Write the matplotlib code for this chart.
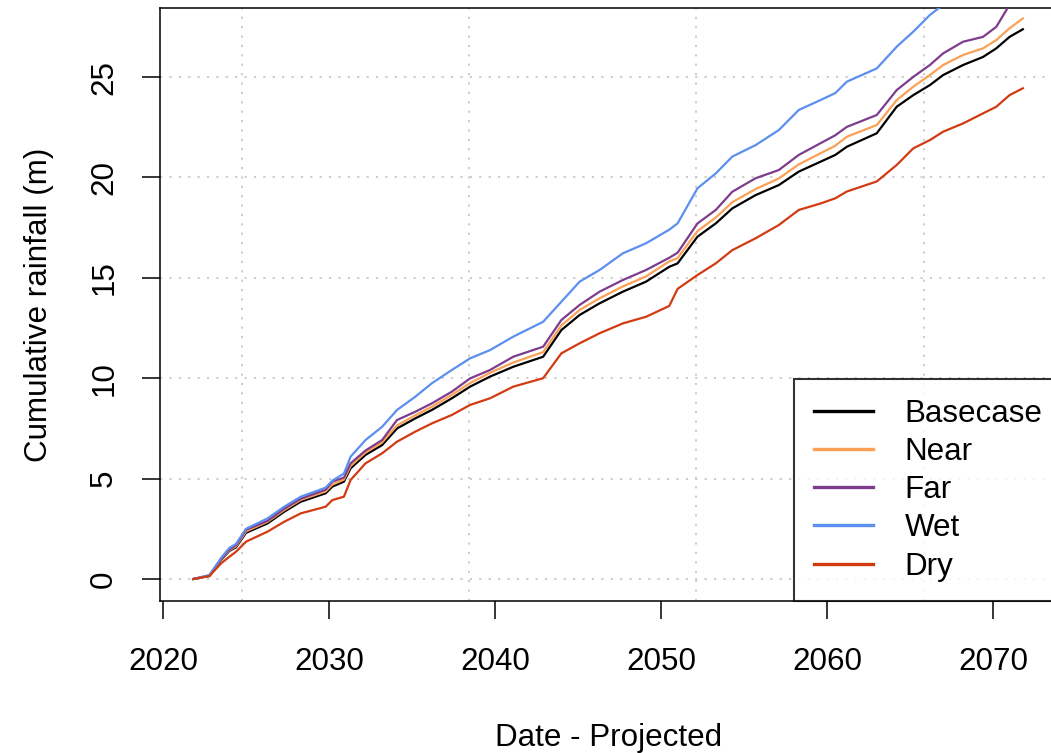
import numpy as np
import matplotlib
matplotlib.use("Agg")
import matplotlib.pyplot as plt

plt.rcParams["font.family"] = ["Liberation Sans", "DejaVu Sans"]

# decimal years, values (m)
years = [2021.83, 2022.8, 2023.5, 2024.0, 2024.4, 2025.0, 2026.3, 2027.3, 2028.3,
         2029.8, 2030.2, 2030.9, 2031.3, 2032.2, 2033.2, 2034.1, 2035.2, 2036.2,
         2037.4, 2038.5, 2039.7, 2041.1, 2042.9, 2044.0, 2045.1, 2046.3, 2047.7,
         2049.1, 2050.5, 2051.0, 2052.2, 2053.3, 2054.3, 2055.7, 2057.1, 2058.3,
         2059.6, 2060.5, 2061.2, 2063.0, 2064.2, 2065.2, 2066.2, 2067.0, 2068.2,
         2069.4, 2070.2, 2071.0, 2071.8]

basecase = [0, 0.15, 0.95, 1.4, 1.58, 2.3, 2.77, 3.35, 3.85,
            4.27, 4.6, 4.85, 5.51, 6.18, 6.67, 7.5, 8.0, 8.42,
            9.0, 9.58, 10.08, 10.57, 11.07, 12.4, 13.15, 13.73, 14.31,
            14.81, 15.55, 15.72, 17.05, 17.71, 18.46, 19.12, 19.62, 20.29,
            20.78, 21.12, 21.53, 22.2, 23.52, 24.1, 24.6, 25.1, 25.6,
            26.0, 26.43, 27.0, 27.38]

near = [0, 0.16, 0.98, 1.44, 1.63, 2.37, 2.85, 3.43, 3.94,
        4.36, 4.7, 4.95, 5.63, 6.3, 6.8, 7.65, 8.15, 8.58,
        9.17, 9.76, 10.27, 10.78, 11.3, 12.63, 13.4, 13.98, 14.57,
        15.07, 15.82, 15.98, 17.33, 18.0, 18.77, 19.42, 19.95, 20.65,
        21.2, 21.58, 22.03, 22.61, 23.85, 24.52, 25.1, 25.6, 26.1,
        26.43, 26.84, 27.43, 27.92]

far = [0, 0.17, 1.0, 1.48, 1.68, 2.45, 2.9, 3.5, 4.0,
       4.45, 4.85, 5.05, 5.76, 6.4, 6.92, 7.92, 8.33, 8.75,
       9.33, 9.99, 10.41, 11.07, 11.57, 12.9, 13.65, 14.31, 14.89,
       15.39, 16.0, 16.25, 17.71, 18.38, 19.29, 19.96, 20.37, 21.12,
       21.7, 22.1, 22.52, 23.11, 24.35, 25.01, 25.6, 26.18, 26.76,
       27.0, 27.5, 28.6, np.nan]

wet = [0, 0.2, 1.05, 1.55, 1.75, 2.5, 3.02, 3.6, 4.1,
       4.55, 4.9, 5.25, 6.09, 6.92, 7.58, 8.42, 9.08, 9.75,
       10.41, 10.99, 11.4, 12.07, 12.81, 13.81, 14.81, 15.39, 16.22,
       16.72, 17.4, 17.71, 19.46, 20.2, 21.04, 21.61, 22.36, 23.36,
       23.85, 24.2, 24.77, 25.43, 26.51, 27.26, 28.09, 28.6, np.nan,
       np.nan, np.nan, np.nan, np.nan]

dry = [0, 0.15, 0.78, 1.11, 1.36, 1.86, 2.36, 2.85, 3.27,
       3.6, 3.93, 4.1, 4.93, 5.76, 6.26, 6.84, 7.34, 7.75,
       8.17, 8.67, 9.0, 9.58, 10.0, 11.24, 11.74, 12.24, 12.73,
       13.06, 13.6, 14.45, 15.14, 15.72, 16.38, 16.97, 17.63, 18.38,
       18.7, 18.96, 19.3, 19.8, 20.62, 21.45, 21.86, 22.28, 22.69,
       23.19, 23.52, 24.1, 24.44]

names = ["Basecase", "Near", "Far", "Wet", "Dry"]
colors = ["#000000", "#FBA055", "#7D3C8C", "#5B8FF0", "#D23A12"]
series = [basecase, near, far, wet, dry]

xticks = [2020, 2030, 2040, 2050, 2060, 2070]
yticks = [0, 5, 10, 15, 20, 25]
# R grid() on a Date axis puts vertical lines at pretty day counts
grid_days = [20000, 25000, 30000, 35000]
grid_years = [1970 + d / 365.25 for d in grid_days]

fig = plt.figure(figsize=(10.51, 7.53), dpi=100)
ax = fig.add_axes([0.1524, 0.2019, 0.8524, 0.7875])

for v in yticks:
    ax.axhline(v, color="#C8C8C8", lw=1.3, dashes=(1.2, 4), zorder=1)
for g in grid_years:
    ax.axvline(g, color="#C8C8C8", lw=1.3, dashes=(1.2, 4), zorder=1)

for name, vals, c in zip(names, series, colors):
    ax.plot(years, vals, color=c, lw=1.6, label=name, zorder=3)

ax.set_xlim(2019.83, 2073.8)
ax.set_ylim(-1.094, 28.44)
ax.set_xticks(xticks)
ax.set_yticks(yticks)
ax.set_xticklabels([str(t) for t in xticks])
ax.set_yticklabels([str(t) for t in yticks], rotation=90, va="center")

for s in ax.spines.values():
    s.set_linewidth(1.1)
    s.set_color("black")
ax.tick_params(direction="out", length=13, width=1.1, labelsize=22.6, color="black")
ax.tick_params(axis="x", pad=20.5)
ax.tick_params(axis="y", pad=16.5)

ax.set_xlabel("Date - Projected", fontsize=22.6, labelpad=33)
ax.set_ylabel("Cumulative rainfall (m)", fontsize=22.6, labelpad=25)

# legend sits flush with the bottom-right corner; its right edge is cut off
leg = ax.legend(loc="lower right", bbox_to_anchor=(1.0065, 0), borderaxespad=0,
                fontsize=22.6, frameon=True, fancybox=False, edgecolor="black",
                handlelength=1.9, handletextpad=1.0, borderpad=0.62,
                labelspacing=0.26)
leg.get_frame().set_linewidth(1.5)
for line in leg.get_lines():
    line.set_linewidth(2.4)

fig.savefig("out.png", dpi=100)
